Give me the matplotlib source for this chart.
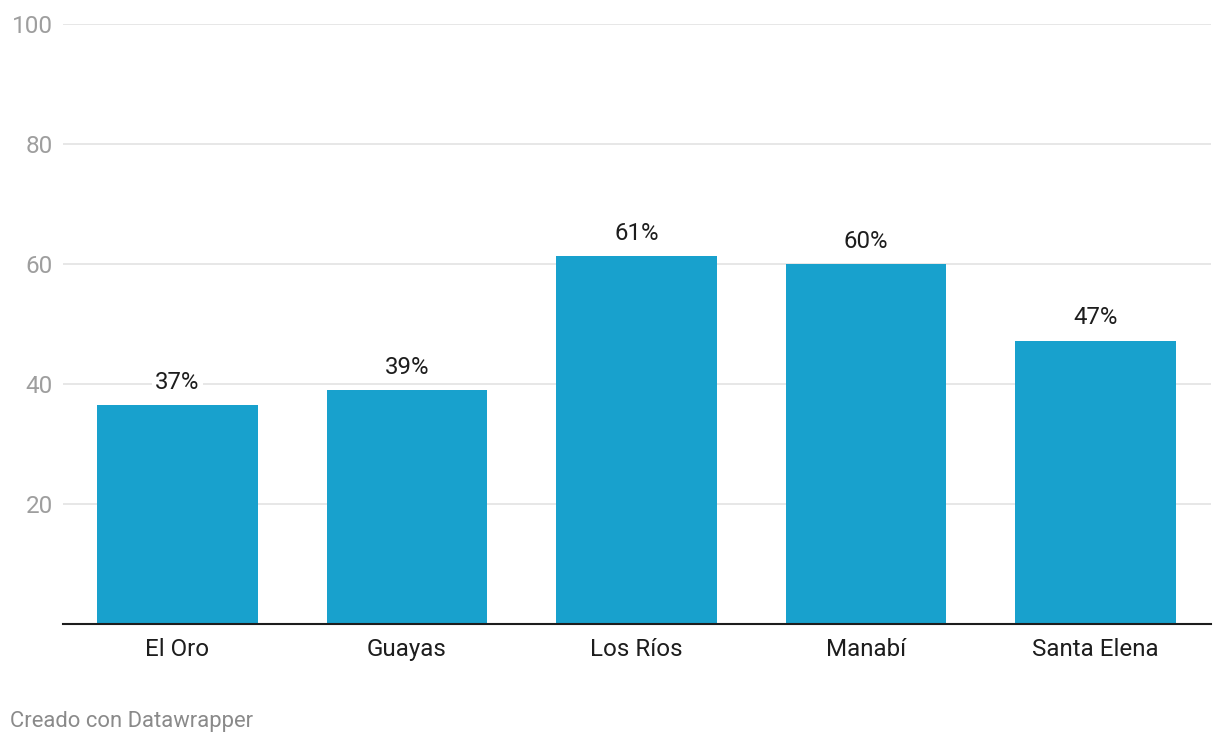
import matplotlib
matplotlib.use("Agg")
import matplotlib.pyplot as plt

categories = ["El Oro", "Guayas", "Los Ríos", "Manabí", "Santa Elena"]
values = [36.5, 39.0, 61.3, 60.0, 47.2]
labels = ["37%", "39%", "61%", "60%", "47%"]
yticks = [20, 40, 60, 80, 100]

plt.rcParams['font.family'] = ['Roboto', 'DejaVu Sans']

fig = plt.figure(figsize=(12.2, 7.44), dpi=100)
ax = fig.add_axes([62.5/1220, 1-624/744, 1148/1220, 600/744])

x = list(range(len(categories)))
ax.bar(x, values, width=0.70, color="#18a1cd", zorder=2)
ax.set_xlim(-0.5, len(categories) - 0.5)
ax.set_ylim(0, 100)

for xi, v, lab in zip(x, values, labels):
    ax.annotate(lab, (xi, v), xytext=(0, 16.5), textcoords="offset points",
                ha="center", va="center", fontsize=17.3, color="#1d1d1d", zorder=4,
                bbox=dict(boxstyle="square,pad=0.15", fc="white", ec="none"))

ax.set_yticks(yticks)
ax.set_yticklabels([str(t) for t in yticks], fontsize=17.5, color="#9e9e9e")
ax.yaxis.grid(True, color="#e3e3e3", linewidth=1.2, zorder=0)
ax.tick_params(axis="y", length=0, pad=7)
ax.set_xticks(x)
ax.set_xticklabels(categories, fontsize=17.4, color="#1d1d1d")
ax.tick_params(axis="x", length=0, pad=10)

for s in ["top", "right", "left"]:
    ax.spines[s].set_visible(False)
ax.spines["bottom"].set_color("#1d1d1d")
ax.spines["bottom"].set_linewidth(1.5)
ax.spines["bottom"].set_zorder(3)

fig.text(10/1220, 1-722/744, "Creado con Datawrapper", fontsize=15.8, color="#8a8a8a",
         ha="left", va="center")

fig.savefig("out.png", dpi=100, facecolor="white")
